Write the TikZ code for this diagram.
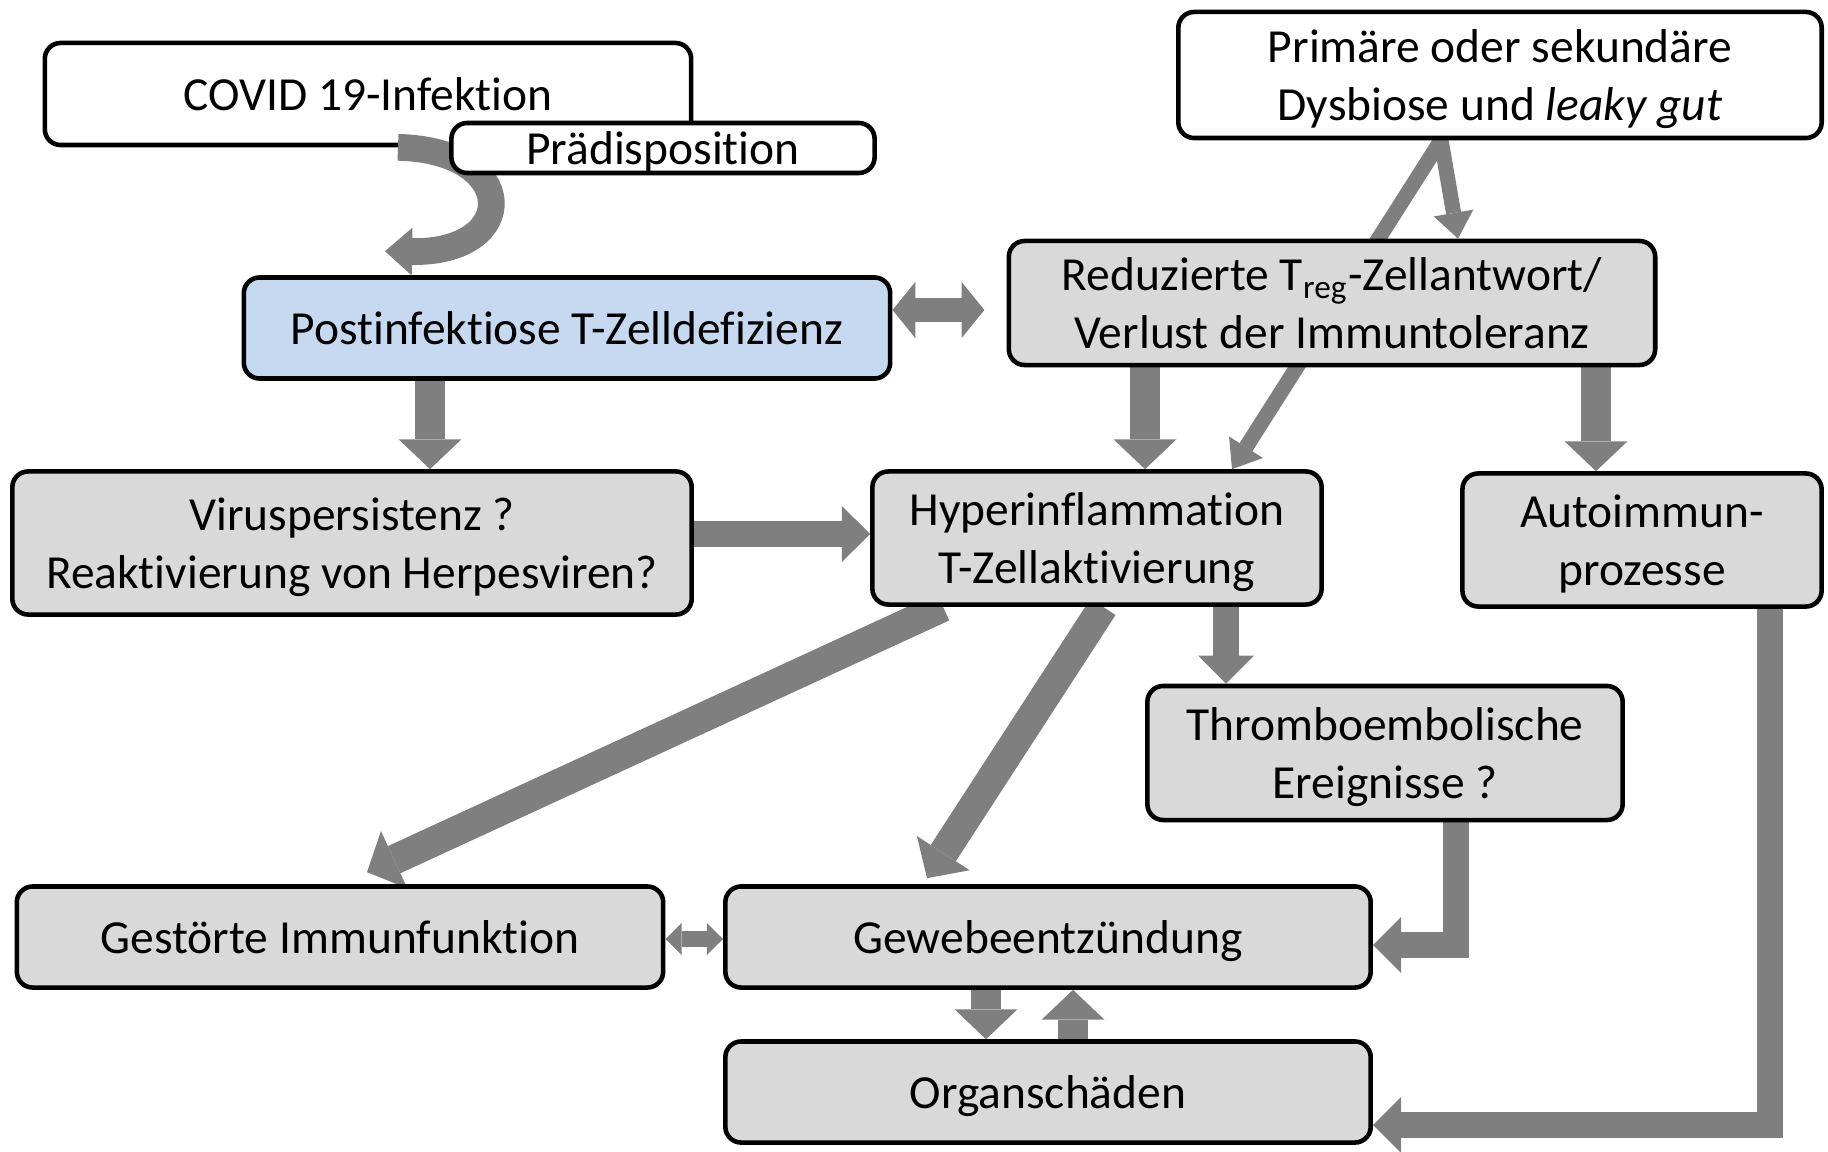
\documentclass[tikz,border=0pt]{standalone}
\usepackage{fontspec}
\setmainfont{Carlito}[Ligatures=NoCommon]
\usetikzlibrary{arrows.meta,backgrounds,calc}
\definecolor{boxgray}{HTML}{D9D9D9}
\definecolor{boxblue}{HTML}{C6D9F1}
\definecolor{arrowgray}{HTML}{7F7F7F}

\begin{document}
\begin{tikzpicture}[
    x=0.01cm, y=-0.01cm,
    box/.style={draw,line width=1.3pt,rounded corners=4.5pt,fill=boxgray,align=center,
                font=\fontsize{13.5}{16.5}\selectfont,inner sep=2pt,text depth=0pt},
    whitebox/.style={box,fill=white},
    bigarrow/.style={color=arrowgray,line width=8.5pt,
                     -{Triangle[length=8.5pt,width=17.9pt,line width=0pt]}},
    midarrow/.style={color=arrowgray,line width=7.4pt,
                     -{Triangle[length=8pt,width=15.9pt,line width=0pt]}},
    thinarrow/.style={color=arrowgray,line width=4.3pt,
                      -{Triangle[length=7.4pt,width=11.4pt,line width=0pt]}},
    curvedarrow/.style={color=arrowgray,line width=7.6pt,
                        -{Triangle[length=7.7pt,width=13.6pt,line width=0pt]}},
    dblarrow/.style={color=arrowgray,line width=7pt,
                     {Triangle[length=6.5pt,width=16pt,line width=0pt]}-{Triangle[length=6.5pt,width=16pt,line width=0pt]}},
    smalldbl/.style={color=arrowgray,line width=4.6pt,
                     {Triangle[length=4.6pt,width=9.1pt,line width=0pt]}-{Triangle[length=4.6pt,width=9.1pt,line width=0pt]}}]
    \useasboundingbox (0,0) rectangle (1828,1152);
    % top left
    \node[whitebox,minimum width=6.46cm,minimum height=1.02cm] (covid) at (368,94) {COVID 19-Infektion};
    \node[box,fill=boxblue,minimum width=6.46cm,minimum height=1.01cm] (postinf) at (567,328) {Postinfektiose T-Zelldefizienz};
    \draw[curvedarrow] ($(covid.south)+(30,0)$) .. controls ($(covid.south)+(152,3)$)
         and ($(postinf.north)+(-47,-22)$) .. ($(postinf.north)+(-182,-24)$);
    \node[whitebox,minimum width=4.23cm,minimum height=0.50cm] (praedis) at (663,148) {Prädisposition};
    % top right
    \node[whitebox,minimum width=6.43cm,minimum height=1.26cm] (primaer) at (1500,75)
         {Primäre oder sekundäre\\Dysbiose und \textit{leaky gut}};
    \node[box,minimum width=6.46cm,minimum height=1.24cm] (reduz) at (1332,303)
         {Reduzierte T\textsubscript{reg}-Zellantwort/\\Verlust der Immuntoleranz};
    % middle row
    \node[box,minimum width=6.79cm,minimum height=1.43cm] (virus) at (352,543)
         {Viruspersistenz ?\\Reaktivierung von Herpesviren?};
    \node[box,minimum width=4.49cm,minimum height=1.33cm] (hyper) at (1097,538)
         {Hyperinflammation\\T-Zellaktivierung};
    \node[box,minimum width=3.59cm,minimum height=1.33cm] (auto) at (1642,540)
         {Autoimmun-\\prozesse};
    \node[box,minimum width=4.75cm,minimum height=1.34cm] (thrombo) at (1385,753)
         {Thromboembolische\\Ereignisse ?};
    % bottom
    \node[box,minimum width=6.46cm,minimum height=1.01cm] (gestoert) at (340,937) {Gestörte Immunfunktion};
    \node[box,minimum width=6.45cm,minimum height=1.01cm] (gewebe) at (1048,937) {Gewebeentzündung};
    \node[box,minimum width=6.45cm,minimum height=1.01cm] (organ) at (1048,1092) {Organschäden};
    % connectors behind the boxes
    \begin{scope}[on background layer]
    \draw[bigarrow] (430,0 |- postinf.south) -- (430,0 |- virus.north);
    \draw[midarrow] (virus.east |- 0,534) -- (hyper.west |- 0,534);
    \draw[dblarrow,shorten >=6.3pt] (postinf.east |- 0,310) -- (reduz.west |- 0,310);
    \draw[thinarrow] (1441,0 |- primaer.south) -- (1458,0 |- reduz.north);
    \draw[thinarrow] (1441,0 |- primaer.south) -- (1232,0 |- hyper.north);
    \draw[bigarrow] (1145,0 |- reduz.south) -- (1145,0 |- hyper.north);
    \draw[bigarrow] (1596,0 |- reduz.south) -- (1596,0 |- auto.north);
    \draw[bigarrow] (943,0 |- hyper.south) -- ($(367,0 |- gestoert.north)+(0,-12)$);
    \draw[bigarrow] (1103,0 |- hyper.south) -- ($(927,0 |- gewebe.north)+(0,-6)$);
    \draw[midarrow] (1226,0 |- hyper.south) -- (1226,0 |- thrombo.north);
    \draw[midarrow] (1456,0 |- thrombo.south) |- ($(gewebe.east)+(0,8)$);
    \draw[midarrow] (1770,0 |- auto.south) |- ($(organ.east)+(0,33)$);
    \draw[smalldbl] ($(gestoert.east)+(0,2)$) -- ($(gewebe.west)+(0,2)$);
    \draw[bigarrow] (986,0 |- gewebe.south) -- (986,0 |- organ.north);
    \draw[bigarrow] (1073,0 |- organ.north) -- (1073,0 |- gewebe.south);
    \end{scope}
\end{tikzpicture}
\end{document}
